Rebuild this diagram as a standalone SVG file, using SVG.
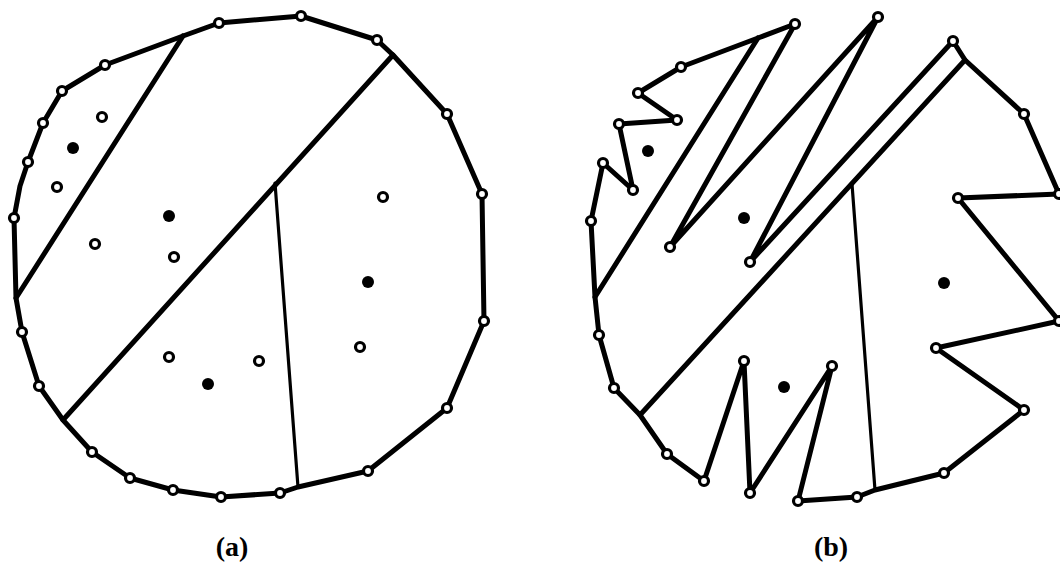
<svg xmlns="http://www.w3.org/2000/svg" width="1060" height="565" viewBox="0 0 1060 565">
<style>
.edge{fill:none;stroke:#000;stroke-width:5;stroke-linejoin:round;stroke-linecap:round}
.chord{fill:none;stroke:#000;stroke-width:5;stroke-linecap:round}
.thin{fill:none;stroke:#000;stroke-width:3.2;stroke-linecap:round}
.v{fill:#fff;stroke:#000;stroke-width:3.2}
.s{fill:#000}
.lbl{font-family:"Liberation Serif",serif;font-weight:bold;font-size:28px;fill:#000}
</style>
<defs>
<circle id="ov" r="4.5" class="v"/>
<circle id="fd" r="6" class="s"/>
</defs>
<rect width="1060" height="565" fill="#fff"/>
<g id="connectors">
<g id="fig-a-lines">
<polygon class="edge" points="219,23 301,16 377,40 393,55 447,114 482,194 484,321 447,408 368,471 298,487 280,493 221,497 173,490 130,478 92,452 63,420 39,386 22,332 16,298 14,218 20,186 28,162 43,123 62,91 105,65 183,36"/>
<line class="chord" x1="183" y1="36" x2="16" y2="298"/>
<line class="chord" x1="393" y1="55" x2="63" y2="420"/>
<line class="thin" x1="275" y1="183" x2="298" y2="487"/>
</g>
<g id="fig-b-lines">
<polygon class="edge" points="795,24 670,247 878,17 750,262 953,41 965,60 1024,114 1059,194 958,198 1059,321 936,348 1024,410 944,473 875,490 857,497 798,501 832,366 750,493 744,361 704,481 667,454 640,415 614,388 599,335 595,297 591,221 603,163 633,190 619,124 677,120 638,93 681,67 758,38"/>
<line class="chord" x1="758" y1="38" x2="595" y2="297"/>
<line class="chord" x1="965" y1="60" x2="640" y2="415"/>
<line class="thin" x1="852" y1="184" x2="875" y2="490"/>
</g>
</g>
<g id="fig-a-vertices">
<use href="#ov" x="219" y="23"/><use href="#ov" x="301" y="16"/><use href="#ov" x="377" y="40"/><use href="#ov" x="447" y="114"/><use href="#ov" x="482" y="194"/><use href="#ov" x="484" y="321"/><use href="#ov" x="447" y="408"/><use href="#ov" x="368" y="471"/><use href="#ov" x="280" y="493"/><use href="#ov" x="221" y="497"/><use href="#ov" x="173" y="490"/><use href="#ov" x="130" y="478"/><use href="#ov" x="92" y="452"/><use href="#ov" x="39" y="386"/><use href="#ov" x="22" y="332"/><use href="#ov" x="14" y="218"/><use href="#ov" x="28" y="162"/><use href="#ov" x="43" y="123"/><use href="#ov" x="62" y="91"/><use href="#ov" x="105" y="65"/>
</g>
<g id="fig-a-points">
<use href="#ov" x="102" y="117"/><use href="#ov" x="57" y="187"/><use href="#ov" x="95" y="244"/><use href="#ov" x="174" y="257"/><use href="#ov" x="383" y="197"/><use href="#ov" x="169" y="357"/><use href="#ov" x="259" y="361"/><use href="#ov" x="360" y="347"/>
<use href="#fd" x="73" y="148"/><use href="#fd" x="169" y="216"/><use href="#fd" x="368" y="282"/><use href="#fd" x="208" y="384"/>
</g>
<g id="fig-b-vertices">
<use href="#ov" x="795" y="24"/><use href="#ov" x="670" y="247"/><use href="#ov" x="878" y="17"/><use href="#ov" x="750" y="262"/><use href="#ov" x="953" y="41"/><use href="#ov" x="1024" y="114"/><use href="#ov" x="1059" y="194"/><use href="#ov" x="958" y="198"/><use href="#ov" x="1059" y="321"/><use href="#ov" x="936" y="348"/><use href="#ov" x="1024" y="410"/><use href="#ov" x="944" y="473"/><use href="#ov" x="857" y="497"/><use href="#ov" x="798" y="501"/><use href="#ov" x="832" y="366"/><use href="#ov" x="750" y="493"/><use href="#ov" x="744" y="361"/><use href="#ov" x="704" y="481"/><use href="#ov" x="667" y="454"/><use href="#ov" x="614" y="388"/><use href="#ov" x="599" y="335"/><use href="#ov" x="591" y="221"/><use href="#ov" x="603" y="163"/><use href="#ov" x="633" y="190"/><use href="#ov" x="619" y="124"/><use href="#ov" x="677" y="120"/><use href="#ov" x="638" y="93"/><use href="#ov" x="681" y="67"/>
</g>
<g id="fig-b-points">
<use href="#fd" x="648" y="151"/><use href="#fd" x="744" y="218"/><use href="#fd" x="784" y="387"/><use href="#fd" x="944" y="283"/>
</g>
<g id="labels">
<text class="lbl" x="232" y="556" text-anchor="middle">(a)</text>
<text class="lbl" x="831" y="556" text-anchor="middle">(b)</text>
</g>
</svg>
